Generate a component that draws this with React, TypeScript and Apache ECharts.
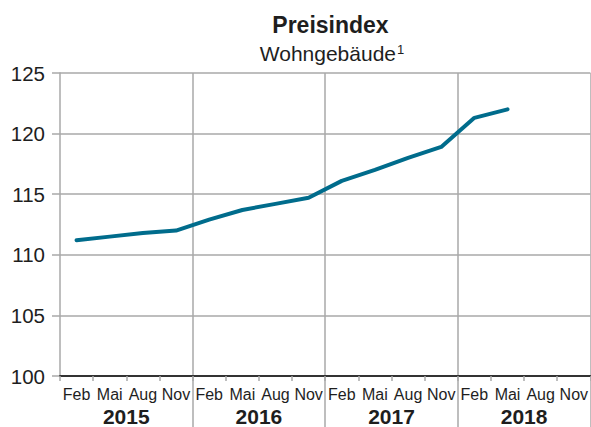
import React, { useEffect, useRef } from "react";
import * as echarts from "echarts";

const months = ["Feb", "Mai", "Aug", "Nov", "Feb", "Mai", "Aug", "Nov", "Feb", "Mai", "Aug", "Nov", "Feb", "Mai", "Aug", "Nov"];
const years = ["2015", "2016", "2017", "2018"];
const values = [111.2, 111.5, 111.8, 112.0, 112.9, 113.7, 114.2, 114.7, 116.1, 117.0, 118.0, 118.9, 121.3, 122.0, null, null];
const yTicks = { min: 100, max: 125, interval: 5 };
const titleText = "Preisindex";
const subtitleText = "Wohngebäude";
const footnoteMark = "1";

const FONT = "'Liberation Sans', Arial, Helvetica, sans-serif";
const GRID_COLOR = "#a8a8a8";
const TEXT_COLOR = "#1e1e1e";

export default function App() {
  const ref = useRef<HTMLDivElement>(null);
  useEffect(() => {
    if (!ref.current) return;
    const chart = echarts.init(ref.current, undefined, { renderer: "svg" });
    const skipFirst = (i: number) => i > 0;
    chart.setOption({
      animation: false,
      textStyle: { fontFamily: FONT },
      title: [
        {
          text: titleText,
          left: 325.5,
          top: 8,
          textAlign: "center",
          textStyle: { fontFamily: FONT, fontSize: 23, fontWeight: "bold", color: TEXT_COLOR },
        },
        {
          text: `{a|${subtitleText}}{sup|${footnoteMark}}`,
          left: 327,
          top: 38,
          textAlign: "center",
          textStyle: {
            fontFamily: FONT,
            fontSize: 21,
            fontWeight: "normal",
            color: TEXT_COLOR,
            rich: {
              a: { fontFamily: FONT, fontSize: 21, color: TEXT_COLOR },
              sup: { fontFamily: FONT, fontSize: 13, color: TEXT_COLOR, verticalAlign: "top", padding: [0, 0, 0, 1] },
            },
          },
        },
      ],
      grid: { left: 60, right: -1, top: 73, bottom: 51, containLabel: false },
      xAxis: [
        {
          type: "category",
          data: months,
          position: "bottom",
          boundaryGap: true,
          axisLine: { show: true, lineStyle: { color: "#333", width: 1.8 } },
          axisTick: { show: true, length: 5, interval: 0, lineStyle: { color: GRID_COLOR, width: 1.5 } },
          axisLabel: { interval: 0, margin: 10, fontSize: 16, color: TEXT_COLOR, fontFamily: FONT },
          splitLine: { show: false },
          z: 5,
        },
        {
          type: "category",
          data: years,
          position: "bottom",
          boundaryGap: true,
          axisLine: { show: false },
          axisTick: { show: true, length: 51, interval: skipFirst, lineStyle: { color: GRID_COLOR, width: 1.5 } },
          axisLabel: { interval: 0, margin: 30, fontSize: 21, fontWeight: "bold", color: TEXT_COLOR, fontFamily: FONT },
          splitLine: { show: true, interval: skipFirst, lineStyle: { color: GRID_COLOR, width: 1.5 } },
        },
      ],
      yAxis: {
        type: "value",
        min: yTicks.min,
        max: yTicks.max,
        interval: yTicks.interval,
        axisLine: { show: true, lineStyle: { color: GRID_COLOR, width: 1.5 } },
        axisTick: { show: true, length: 8, lineStyle: { color: GRID_COLOR, width: 1.5 } },
        axisLabel: { margin: 15, fontSize: 20.5, color: TEXT_COLOR, fontFamily: FONT },
        splitLine: { show: true, lineStyle: { color: GRID_COLOR, width: 1.5 } },
      },
      series: [
        {
          type: "line",
          data: values,
          xAxisIndex: 0,
          showSymbol: false,
          symbol: "none",
          connectNulls: false,
          lineStyle: { color: "#006c8c", width: 4, cap: "round", join: "round" },
          z: 10,
        },
      ],
    });
    return () => chart.dispose();
  }, []);
  return (
    <div
      ref={ref}
      style={{ position: "absolute", left: 0, top: 0, width: 591, height: 427, background: "#fff" }}
    />
  );
}
